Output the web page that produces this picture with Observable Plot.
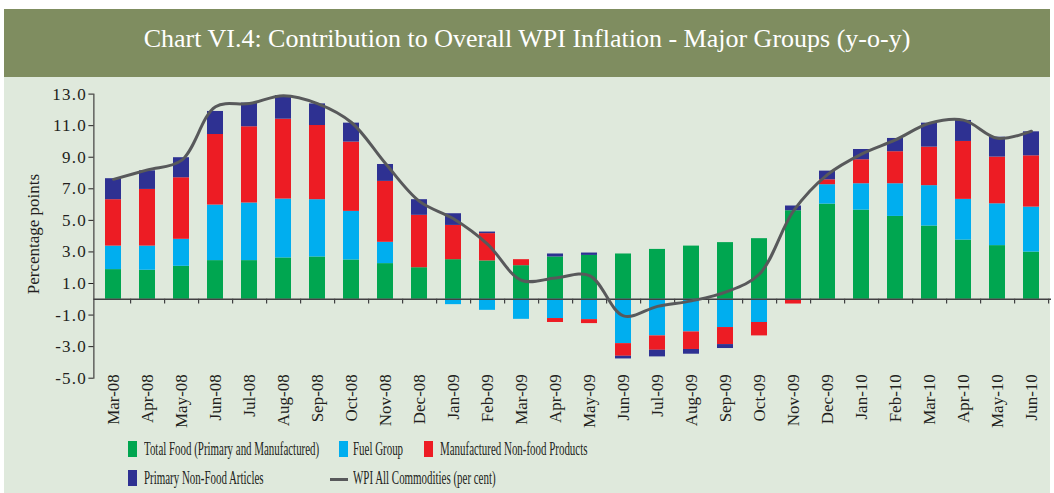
<!DOCTYPE html>
<html><head><meta charset="utf-8">
<script src="https://cdn.jsdelivr.net/npm/d3@7"></script>
<script src="https://cdn.jsdelivr.net/npm/@observablehq/plot@0.6"></script>
<style>
html,body{margin:0;padding:0;background:#fff;}
#wrap{position:relative;width:1054px;height:493px;overflow:hidden;font-family:"Liberation Serif",serif;color:#231f20;}
#banner{position:absolute;left:4px;top:9px;width:1046px;height:68px;background:#7f8d60;}
#title{position:absolute;left:4px;top:26px;width:1046px;text-align:center;color:#fff;font-size:26px;line-height:26px;white-space:nowrap;}
#panel{position:absolute;left:4px;top:77px;width:1046px;height:416px;background:#dfe9dc;}
#chart{position:absolute;left:0;top:80px;}
#ylab{position:absolute;left:33px;top:234px;transform:translate(-50%,-50%) rotate(-90deg);font-size:17px;line-height:17px;white-space:nowrap;}
.sw{position:absolute;width:9px;height:16px;}
.ln{position:absolute;width:18px;height:3px;background:#58595b;}
.lt{position:absolute;font-size:19px;line-height:19px;white-space:nowrap;transform:scaleX(0.575);transform-origin:0 50%;}
</style>
</head><body>
<div id="wrap">
  <div id="banner"></div>
  <div id="panel"></div>
  <div id="title"></div>
  <div id="chart"></div>
  <div id="ylab"></div>
  <div id="legend"></div>
</div>
<script>
const titleText = "Chart VI.4: Contribution to Overall WPI Inflation - Major Groups (y-o-y)";
const yAxisLabel = "Percentage points";
const months = ["Mar-08","Apr-08","May-08","Jun-08","Jul-08","Aug-08","Sep-08","Oct-08","Nov-08","Dec-08",
  "Jan-09","Feb-09","Mar-09","Apr-09","May-09","Jun-09","Jul-09","Aug-09","Sep-09","Oct-09","Nov-09","Dec-09",
  "Jan-10","Feb-10","Mar-10","Apr-10","May-10","Jun-10"];
const totalFood      = [1.88,1.84,2.09,2.45,2.45,2.62,2.68,2.49,2.26,2.00, 2.51,2.43,2.13,2.68,2.78,2.87,3.16,3.37,3.59,3.84,5.61,6.03, 5.65,5.25,4.64,3.75,3.40,2.99];
const fuelGroup      = [1.49,1.53,1.71,3.52,3.65,3.73,3.63,3.08,1.35,0.00,-0.34,-0.70,-1.27,-1.22,-1.29,-2.81,-2.32,-2.07,-1.79,-1.47,-0.05,1.23, 1.67,2.07,2.56,2.58,2.65,2.85];
const mfgNonFood     = [2.94,3.59,3.90,4.47,4.83,5.06,4.70,4.39,3.86,3.32, 2.17,1.73,0.38,-0.25,-0.25,-0.80,-0.91,-1.11,-1.08,-0.85,-0.25,0.31, 1.52,2.03,2.44,3.67,2.96,3.25];
const primaryNonFood = [1.33,1.18,1.27,1.46,1.50,1.50,1.37,1.20,1.07,0.99, 0.74,0.10,0.00,0.19,0.15,-0.17,-0.42,-0.30,-0.25,0.00,0.30,0.55, 0.65,0.84,1.52,1.33,1.26,1.52];
const wpiAll         = [7.6,8.2,8.8,12.2,12.4,12.9,12.4,11.2,8.6,6.2, 5.1,3.5,1.2,1.35,1.5,-1.05,-0.45,-0.1,0.45,1.6,5.6,7.9, 9.2,10.1,11.15,11.35,10.2,10.65];
const seriesNames = ["Total Food (Primary and Manufactured)","Fuel Group","Manufactured Non-food Products","Primary Non-Food Articles"];
const seriesColors = ["#00a650","#00aeef","#ed1c24","#2e3192"];
const lineName = "WPI All Commodities (per cent)";
const lineColor = "#58595b";
const yTicks = [-5,-3,-1,1,3,5,7,9,11,13];

document.getElementById("title").textContent = titleText;
document.getElementById("ylab").textContent = yAxisLabel;

const seriesValues = [totalFood, fuelGroup, mfgNonFood, primaryNonFood];
const rows = [];
months.forEach((m, i) => seriesValues.forEach((vals, s) => rows.push({month: m, series: seriesNames[s], value: vals[i]})));
const wpi = months.map((m, i) => ({month: m, value: wpiAll[i]}));

const W = 1054, mL = 93.4, mR = 3;
const step = (W - mL - mR) / months.length;

const chart = Plot.plot({
  width: W, height: 350,
  marginTop: 13.6, marginBottom: 52.3, marginLeft: mL, marginRight: mR,
  style: {background: "transparent", fontFamily: "Liberation Serif", fontSize: "17px", color: "#231f20", overflow: "visible"},
  x: {domain: months, paddingInner: 0.54, paddingOuter: 0.27, label: null, tickSize: 0, tickRotate: -90, tickPadding: -4},
  y: {domain: [-5, 13], ticks: yTicks, tickFormat: d => d.toFixed(1), tickSize: 5, tickPadding: 2, line: true, label: null},
  color: {domain: seriesNames, range: seriesColors},
  marks: [
    Plot.barY(rows, {x: "month", y: "value", fill: "series"}),
    Plot.ruleY([0], {stroke: "#414042", strokeWidth: 1.5}),
    Plot.ruleX(months, {x: d => d, y1: 0, y2: -0.3, dx: step / 2, stroke: "#414042", strokeWidth: 1.2}),
    Plot.line(wpi, {x: "month", y: "value", stroke: lineColor, strokeWidth: 3, curve: "catmull-rom"})
  ]
});
chart.querySelectorAll("g[aria-label='y-axis tick label'] text").forEach(e => e.setAttribute("letter-spacing", "1.2"));
document.getElementById("chart").appendChild(chart);

// legend
const legend = document.getElementById("legend");
const legendItems = [
  {type: "sw", color: seriesColors[0], label: seriesNames[0], sx: 128, tx: 144, row: 0},
  {type: "sw", color: seriesColors[1], label: seriesNames[1], sx: 339, tx: 353, row: 0},
  {type: "sw", color: seriesColors[2], label: seriesNames[2], sx: 424, tx: 440, row: 0},
  {type: "sw", color: seriesColors[3], label: seriesNames[3], sx: 128, tx: 144, row: 1},
  {type: "ln", color: lineColor, label: lineName, sx: 330, tx: 353, row: 1}
];
const rowTop = [441, 470];
legendItems.forEach(it => {
  const s = document.createElement("div");
  s.className = it.type;
  s.style.left = it.sx + "px";
  s.style.top = (it.type === "sw" ? rowTop[it.row] : rowTop[it.row] + 8) + "px";
  s.style.background = it.color;
  legend.appendChild(s);
  const t = document.createElement("div");
  t.className = "lt";
  t.style.left = it.tx + "px";
  t.style.top = (rowTop[it.row] - 2) + "px";
  t.textContent = it.label;
  legend.appendChild(t);
});
</script>
</body></html>
